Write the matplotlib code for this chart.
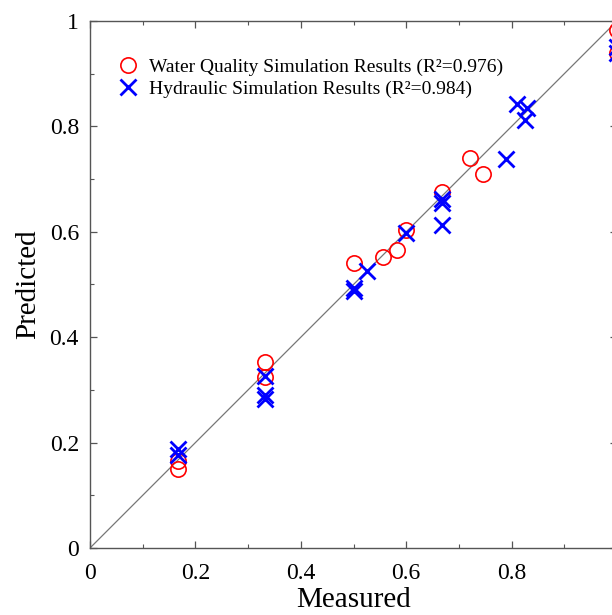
import numpy as np
import matplotlib
matplotlib.use("Agg")
import matplotlib.pyplot as plt
from matplotlib.ticker import MultipleLocator

plt.rcParams['font.family'] = ['Liberation Serif', 'DejaVu Serif']

# water quality simulation (measured, predicted)
wq_measured = [0.167, 0.167, 0.333, 0.333, 0.5, 0.556, 0.583, 0.6, 0.667, 0.722, 0.745, 1.0, 1.0]
wq_predicted = [0.165, 0.150, 0.353, 0.325, 0.540, 0.553, 0.566, 0.603, 0.675, 0.740, 0.710, 0.983, 0.940]

# hydraulic simulation (measured, predicted)
hy_measured = [0.167, 0.167, 0.333, 0.333, 0.333, 0.5, 0.5, 0.525, 0.6, 0.667, 0.667, 0.667,
               0.79, 0.81, 0.83, 0.826, 1.0, 1.0]
hy_predicted = [0.188, 0.176, 0.327, 0.290, 0.282, 0.494, 0.487, 0.525, 0.598, 0.662, 0.655, 0.613,
                0.739, 0.842, 0.834, 0.812, 0.951, 0.940]

wq_label = 'Water Quality Simulation Results (R\u00b2=0.976)'
hy_label = 'Hydraulic Simulation Results (R\u00b2=0.984)'

fig = plt.figure(figsize=(6.12, 6.15), dpi=100)
ax = fig.add_axes([90 / 612, 67 / 615, 527 / 612, 527 / 615])

ax.plot([0, 1], [0, 1], color='#777777', lw=0.9, zorder=1)
ax.plot(wq_measured, wq_predicted, 'o', ms=11, mfc='none', mec='red', mew=1.2,
        label=wq_label, clip_on=False, zorder=3)
ax.plot(hy_measured, hy_predicted, 'x', ms=11, color='blue', mew=2.0,
        label=hy_label, clip_on=False, zorder=3)

ax.set_xlim(0, 1)
ax.set_ylim(0, 1)
ax.xaxis.set_major_locator(MultipleLocator(0.2))
ax.yaxis.set_major_locator(MultipleLocator(0.2))
ax.xaxis.set_minor_locator(MultipleLocator(0.1))
ax.yaxis.set_minor_locator(MultipleLocator(0.1))
fmt = lambda v, p: '0' if abs(v) < 1e-9 else ('1' if abs(v - 1) < 1e-9 else f'{v:.1f}')
ax.xaxis.set_major_formatter(fmt)
ax.yaxis.set_major_formatter(fmt)

ax.tick_params(which='both', direction='in', top=True, right=True, color='#555555')
ax.tick_params(which='major', length=5, width=0.9, labelsize=17, pad=8)
ax.tick_params(which='minor', length=3, width=0.8)
ax.tick_params(axis='x', which='major', pad=11)
for s in ax.spines.values():
    s.set_color('#555555')
    s.set_linewidth(1.0)

ax.set_xlabel('Measured', fontsize=21, labelpad=2)
ax.set_ylabel('Predicted', fontsize=21, labelpad=6)

ax.legend(loc='upper left', frameon=False, fontsize=14, handletextpad=0.6,
          labelspacing=0.25, borderaxespad=0, borderpad=0, handlelength=1.0,
          bbox_to_anchor=(0.053, 0.93))

fig.savefig('out.png', dpi=100)
